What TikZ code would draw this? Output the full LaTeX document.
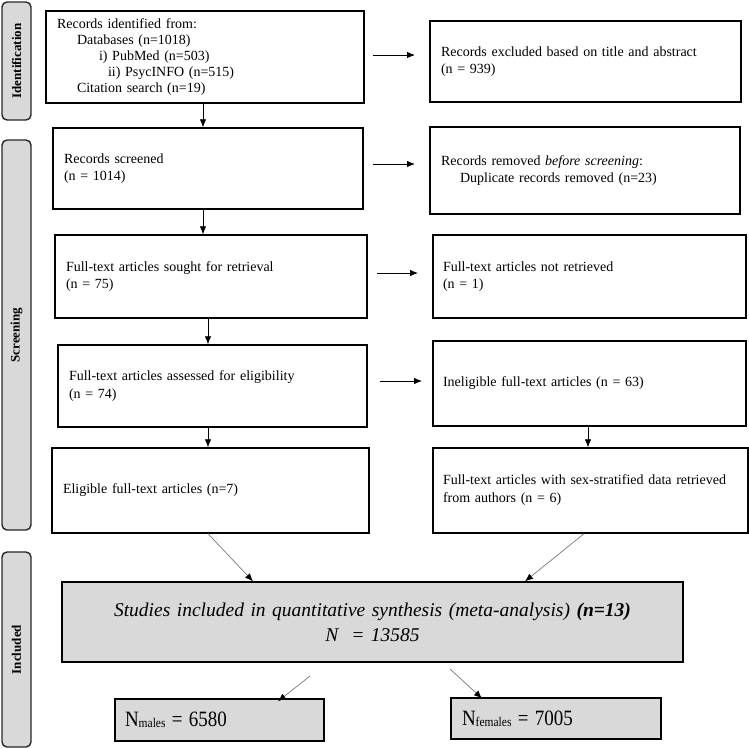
\documentclass[tikz,border=0pt]{standalone}
\usepackage{fontspec}
\setmainfont{Liberation Serif}
\usetikzlibrary{arrows.meta,calc}
\definecolor{sidegray}{RGB}{217,217,217}
\definecolor{lineg}{RGB}{120,120,120}
\begin{document}
\begin{tikzpicture}[x=1pt,y=-1pt,
  box/.style={draw=black, line width=1.4pt, inner xsep=11pt, inner ysep=2pt, align=left, font=\fontsize{14}{17.5}\selectfont},
  side/.style={draw=black!85, fill=sidegray, line width=1.4pt, rounded corners=5pt, rotate=90, minimum height=29pt, inner sep=0pt, font=\bfseries\fontsize{13}{14}\selectfont},
  arr/.style={line width=0.8pt, -{Latex[length=8pt,width=6.5pt]}},
  darr/.style={draw=lineg, line width=0.7pt, -{Latex[length=8pt,width=6.5pt,color=black,fill=black]}}
]
\useasboundingbox (0,0) rectangle (749,748);

% side labels
\node[side, minimum width=118pt] (sid) at (16.5,61) {Identification};
\node[side, minimum width=390pt] (sscr) at (16.5,335) {Screening};
\node[side, minimum width=195pt] (sinc) at (16.5,649.5) {Included};

% boxes
\node[box, text width=296pt, minimum height=92pt, font=\fontsize{14}{15.9}\selectfont] (ident) at (205,57)
 {Records identified from:\\
  \hspace*{20pt}Databases (n=1018)\\
  \hspace*{42pt}i) PubMed (n=503)\\
  \hspace*{51pt}ii) PsycINFO (n=515)\\
  \hspace*{20pt}Citation search (n=19)};
\node[box, text width=289pt, minimum height=81pt] (excl) at (585.5,61.5)
 {Records excluded based on title and abstract\\(n = 939)};
\node[box, text width=288pt, minimum height=81pt] (scr) at (208,168.5)
 {Records screened\\(n = 1014)};
\node[box, text width=288pt, minimum height=87pt, font=\fontsize{14}{17}\selectfont] (rem) at (585,170.5)
 {Records removed \textit{before screening}:\\\hspace*{19pt}Duplicate records removed (n=23)};
\node[box, text width=290pt, minimum height=83pt, font=\fontsize{14}{17}\selectfont] (sought) at (211,276.5)
 {Full-text articles sought for retrieval\\(n = 75)};
\node[box, inner xsep=10pt, text width=293pt, minimum height=83pt, font=\fontsize{14}{17}\selectfont] (notret) at (589.5,276.5)
 {Full-text articles not retrieved\\(n = 1)};
\node[box, text width=287pt, minimum height=82pt] (assess) at (212.5,386)
 {Full-text articles assessed for eligibility\\(n = 74)};
\node[box, inner xsep=10pt, text width=293pt, minimum height=85pt] (inelig) at (589.5,383.5)
 {Ineligible full-text articles (n = 63)};
\node[box, text width=295pt, minimum height=85pt] (elig) at (210.5,490.5)
 {Eligible full-text articles (n=7)};
\node[box, inner xsep=10pt, text width=295pt, minimum height=85pt, font=\fontsize{14}{18}\selectfont] (sex) at (590.5,490.5)
 {Full-text articles with sex-stratified data retrieved\\from authors (n = 6)};
\node[box, fill=sidegray, align=center, text width=599pt, minimum height=80pt, font=\itshape\fontsize{19.5}{25}\selectfont] (stud) at (372.5,622)
 {Studies included in quantitative synthesis (meta-analysis) \textbf{(n=13)}\\N~~= 13585};
\node[box, fill=sidegray, inner xsep=10pt, text width=189pt, minimum height=42pt, font=\fontsize{19}{21}\selectfont] (males) at (219.5,720)
 {\scalebox{1}[1.15]{N\raisebox{-1pt}{\fontsize{11.5}{12}\selectfont males} = 6580}};
\node[box, fill=sidegray, inner xsep=11pt, text width=188pt, minimum height=41pt, font=\fontsize{19}{21}\selectfont] (fem) at (556,718.5)
 {\scalebox{1}[1.15]{N\raisebox{-1pt}{\fontsize{11.5}{12}\selectfont females} = 7005}};

% free ends of horizontal arrows
\coordinate (h1a) at (373,55);  \coordinate (h1b) at (415,55);
\coordinate (h2a) at (373,164); \coordinate (h2b) at (415,164);
\coordinate (h3a) at (377,273); \coordinate (h3b) at (418,273);
\coordinate (h4a) at (380,381); \coordinate (h4b) at (422,381);
\coordinate (m1) at (310,676);
\coordinate (f1) at (450,669);

\draw[arr] (h1a) -- (h1b);
\draw[arr] (h2a) -- (h2b);
\draw[arr] (h3a) -- (h3b);
\draw[arr] (h4a) -- (h4b);

% vertical arrows
\draw[arr] ([xshift=-2pt]ident.south) -- ([xshift=-2pt]ident.south |- scr.north);
\draw[arr] ([xshift=-5pt]scr.south) -- ([xshift=-5pt]scr.south |- sought.north);
\draw[arr] ([xshift=-3pt]sought.south) -- ([xshift=-3pt]sought.south |- assess.north);
\draw[arr] ([xshift=-4.5pt]assess.south) -- ([xshift=-4.5pt]assess.south |- elig.north);
\draw[arr] ([xshift=-1.5pt]inelig.south) -- ([xshift=-1.5pt]inelig.south |- sex.north);

% diagonal arrows
\draw[darr] ([xshift=-2.5pt]elig.south) -- ([xshift=-119.5pt]stud.north);
\draw[darr] ([xshift=-6.5pt]sex.south) -- ([xshift=152.5pt]stud.north);
\draw[darr] (m1) -- ([xshift=58.5pt,yshift=-3pt]males.north);
\draw[darr] (f1) -- ([xshift=-74pt,yshift=-1pt]fem.north);
\end{tikzpicture}
\end{document}
